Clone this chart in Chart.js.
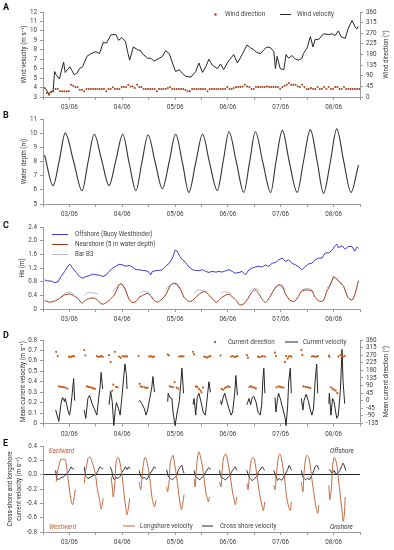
<!DOCTYPE html>
<html><head><meta charset="utf-8">
<script src="https://cdn.jsdelivr.net/npm/chart.js@4.4.0/dist/chart.umd.min.js"></script>
<style>
html,body{margin:0;padding:0;background:#fff;}
#wrap{position:relative;width:394px;height:550px;}
canvas{position:absolute;left:0;top:0;}
</style></head><body>
<div id="wrap">
<canvas id="cA" width="394" height="550"></canvas>
<canvas id="cB" width="394" height="550"></canvas>
<canvas id="cC" width="394" height="550"></canvas>
<canvas id="cD" width="394" height="550"></canvas>
<canvas id="cE" width="394" height="550"></canvas>
</div>
<script>
// ---------- DATA (time in days after 03/06 00:00) ----------
const dayLabels = ['03/06','04/06','05/06','06/06','07/06','08/06'];

// A: wind velocity [t, m/s]
const windVelocity = [[-0.47,4.0],[-0.44,3.8],[-0.39,3.3],[-0.35,3.6],[-0.31,3.6],[-0.28,5.7],[-0.25,5.35],[-0.19,4.9],[-0.11,6.7],[-0.08,5.6],[0.01,6.2],[0.09,5.35],[0.14,5.5],[0.19,6.0],[0.25,6.2],[0.33,7.3],[0.41,7.6],[0.50,7.8],[0.57,7.6],[0.64,8.8],[0.70,8.7],[0.79,9.6],[0.88,9.6],[0.93,9.0],[0.99,9.3],[1.06,8.9],[1.10,7.8],[1.14,6.9],[1.21,8.3],[1.29,8.0],[1.35,7.9],[1.38,7.6],[1.48,7.1],[1.54,7.1],[1.60,6.8],[1.70,7.1],[1.76,7.3],[1.82,7.9],[1.89,7.6],[1.95,6.6],[2.01,5.7],[2.08,5.9],[2.14,5.5],[2.20,5.2],[2.30,5.1],[2.39,5.7],[2.45,6.6],[2.52,5.6],[2.58,6.2],[2.64,7.0],[2.70,6.4],[2.80,6.0],[2.86,6.5],[2.92,5.9],[3.01,6.8],[3.11,7.5],[3.18,6.6],[3.27,7.5],[3.36,8.5],[3.43,8.2],[3.49,8.0],[3.55,7.7],[3.62,7.6],[3.68,8.0],[3.74,8.3],[3.81,8.2],[3.87,7.8],[3.90,6.0],[3.93,7.3],[3.99,6.0],[4.06,5.9],[4.10,7.5],[4.15,7.1],[4.21,7.4],[4.28,7.0],[4.34,6.9],[4.40,7.1],[4.43,7.6],[4.50,8.2],[4.56,9.4],[4.61,8.3],[4.65,9.1],[4.72,9.1],[4.81,9.7],[4.91,9.6],[4.97,9.7],[5.03,9.5],[5.09,10.0],[5.14,9.4],[5.22,9.2],[5.28,10.3],[5.35,11.1],[5.41,10.4],[5.44,10.2],[5.47,10.5]];
// A: wind direction, hourly from t0 (degrees)
const windDirStart = -0.47;
const windDirection = [38,17,10,20,24,34,34,24,24,24,24,24,52,48,42,42,31,31,24,34,34,34,34,34,34,34,34,34,24,34,34,41,34,34,34,42,42,42,52,45,45,38,52,42,42,34,34,34,34,34,34,24,34,34,34,34,38,42,34,34,34,34,34,34,30,24,24,34,34,34,34,34,34,34,24,34,34,34,34,34,34,34,34,42,34,34,38,42,42,42,45,52,45,42,34,34,42,42,42,42,42,45,42,42,42,42,42,34,42,48,52,59,52,52,52,45,42,52,42,34,34,38,34,34,42,34,34,42,34,42,34,34,42,42,34,34,42,34,34,34,34,34,34,34];

// B: water depth [t, m]
const waterDepth = [[-0.47,8.46],[-0.31,6.3],[-0.19,8.1],[-0.08,10.0],[0.08,8.0],[0.24,5.94],[0.35,7.9],[0.47,9.92],[0.61,8.1],[0.75,6.3],[0.88,8.1],[1.01,9.92],[1.13,7.9],[1.26,5.94],[1.37,7.9],[1.49,9.87],[1.62,8.0],[1.76,6.08],[1.89,8.0],[2.01,9.92],[2.14,7.9],[2.26,5.82],[2.39,7.9],[2.52,9.92],[2.65,7.95],[2.80,5.96],[2.91,8.0],[3.02,10.1],[3.16,7.95],[3.30,5.82],[3.41,7.95],[3.52,10.1],[3.66,7.95],[3.81,5.82],[3.91,8.0],[4.03,10.2],[4.16,8.0],[4.31,5.82],[4.43,8.0],[4.56,10.25],[4.69,8.0],[4.81,5.75],[4.94,8.0],[5.06,10.3],[5.19,8.05],[5.33,5.82],[5.47,7.75]];

// C: significant wave height [t, m]
const hsOffshore = [[-0.47,0.85],[-0.41,0.82],[-0.35,0.82],[-0.28,0.77],[-0.22,0.79],[-0.16,0.95],[-0.09,1.10],[-0.03,1.25],[0.01,1.31],[0.06,1.20],[0.13,1.07],[0.19,0.95],[0.25,0.90],[0.31,0.95],[0.38,0.98],[0.44,1.02],[0.50,1.00],[0.57,0.99],[0.63,0.95],[0.69,0.99],[0.75,1.10],[0.82,1.20],[0.88,1.25],[0.94,1.31],[1.01,1.29],[1.07,1.25],[1.13,1.28],[1.19,1.23],[1.26,1.15],[1.32,1.15],[1.38,1.13],[1.45,1.12],[1.51,1.07],[1.54,1.00],[1.57,1.10],[1.64,1.12],[1.70,1.13],[1.76,1.15],[1.82,1.25],[1.89,1.34],[1.95,1.49],[2.00,1.72],[2.04,1.69],[2.09,1.54],[2.14,1.44],[2.20,1.36],[2.26,1.23],[2.33,1.15],[2.39,1.13],[2.45,1.12],[2.52,1.15],[2.58,1.10],[2.64,1.07],[2.70,1.10],[2.77,1.08],[2.83,1.10],[2.89,1.08],[2.96,1.12],[3.02,1.15],[3.08,1.10],[3.14,1.05],[3.21,1.07],[3.27,1.10],[3.33,1.00],[3.40,1.15],[3.46,1.20],[3.52,1.23],[3.58,1.25],[3.65,1.23],[3.71,1.29],[3.77,1.25],[3.84,1.34],[3.90,1.36],[3.96,1.44],[4.03,1.49],[4.09,1.39],[4.15,1.44],[4.21,1.34],[4.28,1.29],[4.34,1.23],[4.40,1.15],[4.47,1.25],[4.53,1.32],[4.59,1.34],[4.65,1.44],[4.72,1.49],[4.78,1.49],[4.84,1.64],[4.91,1.64],[4.97,1.72],[5.03,1.85],[5.06,1.90],[5.09,1.79],[5.16,1.85],[5.22,1.75],[5.28,1.83],[5.35,1.83],[5.40,1.69],[5.44,1.81],[5.47,1.78]];
const hsNearshore = [[-0.47,0.25],[-0.38,0.20],[-0.28,0.23],[-0.19,0.31],[-0.09,0.41],[0.00,0.44],[0.08,0.39],[0.16,0.31],[0.24,0.17],[0.30,0.25],[0.38,0.31],[0.47,0.32],[0.53,0.26],[0.62,0.14],[0.68,0.17],[0.75,0.25],[0.85,0.41],[0.94,0.71],[0.99,0.74],[1.06,0.56],[1.13,0.28],[1.19,0.19],[1.26,0.22],[1.32,0.34],[1.40,0.41],[1.48,0.46],[1.54,0.38],[1.60,0.26],[1.67,0.20],[1.73,0.26],[1.82,0.41],[1.90,0.66],[1.96,0.75],[2.03,0.74],[2.11,0.56],[2.17,0.34],[2.26,0.22],[2.33,0.25],[2.39,0.34],[2.48,0.46],[2.55,0.51],[2.61,0.46],[2.70,0.31],[2.78,0.19],[2.86,0.31],[2.96,0.41],[3.02,0.43],[3.08,0.36],[3.16,0.25],[3.22,0.12],[3.30,0.15],[3.38,0.31],[3.46,0.51],[3.52,0.56],[3.58,0.46],[3.65,0.28],[3.71,0.19],[3.79,0.34],[3.87,0.56],[3.96,0.71],[4.03,0.66],[4.10,0.41],[4.18,0.25],[4.26,0.22],[4.33,0.36],[4.40,0.53],[4.50,0.56],[4.59,0.53],[4.65,0.34],[4.74,0.22],[4.81,0.25],[4.87,0.51],[4.94,0.71],[5.00,0.95],[5.04,0.90],[5.11,0.80],[5.19,0.66],[5.27,0.34],[5.35,0.26],[5.41,0.46],[5.47,0.83]];
const hsBarB3 = [
 [[-0.16,0.35],[-0.09,0.45],[-0.03,0.50],[0.03,0.48],[0.09,0.42]],
 [[0.28,0.40],[0.35,0.48],[0.44,0.47],[0.53,0.45]],
 [[0.82,0.50],[0.89,0.65],[0.96,0.72],[1.02,0.66],[1.07,0.55]],
 [[1.32,0.45],[1.40,0.52],[1.48,0.50],[1.54,0.42]],
 [[1.82,0.55],[1.89,0.68],[1.96,0.74],[2.03,0.70],[2.08,0.60]],
 [[2.36,0.45],[2.42,0.55],[2.52,0.54],[2.61,0.50]],
 [[2.86,0.45],[2.92,0.50],[3.02,0.48],[3.08,0.42]],
 [[3.40,0.50],[3.46,0.58],[3.53,0.60],[3.62,0.52]],
 [[3.87,0.60],[3.95,0.70],[4.03,0.68],[4.09,0.55]],
 [[4.37,0.50],[4.43,0.58],[4.53,0.60],[4.62,0.52]],
 [[4.87,0.60],[4.94,0.75],[5.02,0.92],[5.08,0.85],[5.16,0.70]]
];

// D: mean current velocity [t, m/s] (bursts)
const currentVelocity = [
 [[-0.26,0.13],[-0.20,0.02],[-0.16,0.19],[-0.13,0.25],[-0.09,0.21],[-0.08,0.24],[-0.05,0.18],[-0.03,0.13],[0.00,0.08],[0.02,0.13],[0.05,0.27],[0.08,0.43],[0.10,0.22]],
 [[0.28,0.13],[0.31,0.05],[0.35,0.24],[0.38,0.27],[0.43,0.19],[0.47,0.14],[0.52,0.08],[0.54,0.18],[0.58,0.35],[0.60,0.49],[0.63,0.33]],
 [[0.75,0.18],[0.78,0.31],[0.81,0.21],[0.84,-0.02],[0.87,0.14],[0.89,0.20],[0.93,0.14],[0.96,0.08],[0.98,0.18],[1.02,0.40],[1.05,0.57],[1.08,0.46],[1.09,0.33]],
 [[1.31,0.21],[1.33,0.22],[1.37,0.19],[1.42,0.14],[1.45,0.08],[1.48,0.13],[1.52,0.24],[1.56,0.35],[1.58,0.45],[1.61,0.30]],
 [[1.86,0.21],[1.87,0.29],[1.90,0.25],[1.94,0.24],[1.96,0.11],[2.00,-0.02],[2.04,0.11],[2.08,0.21],[2.11,0.40],[2.13,0.53],[2.16,0.29]],
 [[2.34,0.18],[2.36,0.24],[2.39,0.08],[2.42,0.25],[2.45,0.29],[2.49,0.21],[2.53,0.11],[2.57,0.08],[2.59,0.16],[2.62,0.30],[2.64,0.40],[2.67,0.30]],
 [[2.86,0.22],[2.88,0.18],[2.91,0.25],[2.94,0.29],[2.98,0.21],[3.02,0.14],[3.06,0.08],[3.09,0.11],[3.13,0.30],[3.15,0.46],[3.18,0.27]],
 [[3.36,0.18],[3.40,0.24],[3.43,0.18],[3.46,0.25],[3.49,0.26],[3.53,0.21],[3.57,0.11],[3.61,0.08],[3.64,0.18],[3.66,0.41],[3.68,0.53],[3.70,0.29]],
 [[3.89,0.25],[3.91,0.11],[3.94,0.24],[3.96,0.29],[4.00,0.22],[4.04,0.14],[4.08,0.06],[4.10,-0.02],[4.13,0.16],[4.15,0.40],[4.18,0.53],[4.20,0.29]],
 [[4.39,0.24],[4.42,0.13],[4.44,0.22],[4.48,0.28],[4.52,0.22],[4.56,0.13],[4.59,0.08],[4.62,0.14],[4.65,0.40],[4.68,0.57],[4.70,0.29]],
 [[4.91,0.19],[4.92,0.29],[4.95,0.08],[4.98,0.24],[5.01,0.21],[5.03,0.14],[5.06,0.05],[5.09,0.08],[5.13,0.33],[5.16,0.71],[5.18,0.40],[5.21,0.19]]
];
// D: mean current direction [t, deg]
const currentDirection = [
 [-0.25,290],[-0.22,265],[-0.20,85],[-0.17,83],[-0.14,82],[-0.11,80],[-0.08,78],[-0.04,72],[-0.01,262],[0.01,258],[0.04,262],[0.06,265],[0.09,263],
 [0.28,300],[0.30,268],[0.33,85],[0.36,82],[0.39,80],[0.42,78],[0.45,73],[0.48,70],[0.52,265],[0.55,260],[0.58,262],[0.60,265],[0.63,260],
 [0.75,270],[0.78,230],[0.81,60],[0.83,95],[0.86,290],[0.88,82],[0.91,80],[0.94,262],[0.97,255],[1.01,265],[1.04,262],[1.07,265],[1.09,262],
 [1.31,265],[1.33,100],[1.35,85],[1.38,82],[1.42,80],[1.45,75],[1.48,78],[1.51,262],[1.54,265],[1.57,258],[1.60,262],
 [1.86,275],[1.88,268],[1.90,85],[1.93,82],[1.96,80],[1.99,110],[2.03,78],[2.06,72],[2.08,262],[2.11,265],[2.13,262],[2.16,263],
 [2.34,290],[2.36,275],[2.39,85],[2.42,82],[2.45,70],[2.48,60],[2.50,50],[2.53,78],[2.55,262],[2.58,258],[2.61,255],[2.64,262],[2.67,265],
 [2.86,268],[2.88,70],[2.91,65],[2.94,75],[2.97,80],[3.00,85],[3.03,82],[3.06,262],[3.09,265],[3.13,258],[3.15,262],[3.18,265],
 [3.36,270],[3.38,255],[3.41,82],[3.44,85],[3.47,80],[3.50,78],[3.53,72],[3.57,262],[3.60,258],[3.64,262],[3.66,265],[3.70,262],
 [3.89,285],[3.91,265],[3.92,80],[3.96,85],[3.99,82],[4.02,80],[4.05,78],[4.08,230],[4.10,265],[4.13,250],[4.15,262],[4.18,265],[4.20,262],
 [4.39,300],[4.41,270],[4.43,85],[4.47,82],[4.50,80],[4.53,78],[4.56,75],[4.59,262],[4.62,265],[4.65,260],[4.68,262],[4.70,265],
 [4.91,268],[4.92,260],[4.95,80],[4.98,70],[5.01,65],[5.04,60],[5.07,45],[5.09,262],[5.13,270],[5.16,265],[5.18,262],[5.21,265]
];

// E: longshore and cross-shore velocity [t, m/s] (bursts)
const longshoreVelocity = [
 [[-0.25,-0.10],[-0.22,0.06],[-0.19,0.15],[-0.16,0.22],[-0.13,0.21],[-0.09,0.22],[-0.06,0.15],[-0.03,-0.03],[0.00,-0.21],[0.03,-0.35],[0.06,-0.42],[0.09,-0.31],[0.11,-0.21]],
 [[0.28,-0.12],[0.31,0.06],[0.35,0.22],[0.38,0.25],[0.41,0.22],[0.44,0.15],[0.49,0.02],[0.53,-0.21],[0.57,-0.35],[0.60,-0.48],[0.62,-0.42],[0.64,-0.33]],
 [[0.79,-0.03],[0.81,-0.17],[0.83,-0.31],[0.86,-0.12],[0.88,0.15],[0.91,0.24],[0.94,0.22],[0.97,0.11],[1.01,-0.10],[1.04,-0.31],[1.07,-0.47],[1.09,-0.56],[1.12,-0.45],[1.14,-0.33]],
 [[1.32,-0.10],[1.35,-0.21],[1.37,-0.07],[1.40,0.15],[1.43,0.24],[1.46,0.20],[1.50,0.06],[1.54,-0.17],[1.57,-0.35],[1.61,-0.45],[1.64,-0.35]],
 [[1.84,-0.17],[1.86,-0.24],[1.89,-0.07],[1.91,0.18],[1.94,0.24],[1.96,0.27],[1.99,0.15],[2.03,-0.03],[2.06,-0.21],[2.09,-0.38],[2.12,-0.49],[2.14,-0.42],[2.17,-0.28]],
 [[2.36,-0.06],[2.38,-0.17],[2.40,0.06],[2.43,0.27],[2.45,0.32],[2.48,0.25],[2.52,0.11],[2.55,-0.07],[2.58,-0.24],[2.61,-0.33],[2.63,-0.38],[2.65,-0.31]],
 [[2.84,-0.10],[2.87,-0.17],[2.89,0.06],[2.92,0.24],[2.96,0.29],[2.99,0.22],[3.02,0.09],[3.06,-0.10],[3.09,-0.26],[3.12,-0.35],[3.14,-0.42],[3.17,-0.31]],
 [[3.36,-0.12],[3.38,-0.21],[3.41,0.02],[3.44,0.20],[3.47,0.24],[3.50,0.22],[3.53,0.09],[3.57,-0.12],[3.61,-0.31],[3.65,-0.45],[3.67,-0.50],[3.70,-0.38]],
 [[3.87,-0.15],[3.89,-0.21],[3.92,0.02],[3.95,0.22],[3.98,0.29],[4.01,0.24],[4.04,0.11],[4.08,-0.10],[4.11,-0.31],[4.15,-0.45],[4.18,-0.50],[4.20,-0.38]],
 [[4.39,-0.10],[4.42,-0.24],[4.44,0.02],[4.47,0.22],[4.50,0.27],[4.53,0.24],[4.56,0.11],[4.60,-0.12],[4.64,-0.33],[4.67,-0.47],[4.70,-0.54],[4.72,-0.42]],
 [[4.91,-0.15],[4.93,-0.35],[4.96,-0.17],[4.98,0.11],[5.01,0.24],[5.03,0.22],[5.06,0.15],[5.09,-0.05],[5.13,-0.31],[5.16,-0.51],[5.18,-0.65],[5.20,-0.58],[5.22,-0.31]]
];
const crossShoreVelocity = [
 [[-0.26,0.06],[-0.24,-0.05],[-0.20,-0.07],[-0.16,-0.04],[-0.11,-0.03],[-0.08,-0.01],[-0.03,0.03],[0.00,0.06],[0.03,0.11],[0.06,0.08],[0.09,0.09]],
 [[0.28,0.11],[0.31,-0.02],[0.35,-0.05],[0.39,-0.04],[0.43,-0.02],[0.47,-0.01],[0.52,0.02],[0.55,0.07],[0.58,0.11],[0.62,0.08],[0.64,0.09]],
 [[0.77,0.11],[0.80,0.06],[0.82,-0.02],[0.85,-0.07],[0.88,-0.04],[0.92,-0.05],[0.96,-0.02],[0.99,0.03],[1.03,0.07],[1.06,0.11],[1.09,0.07],[1.12,0.11],[1.14,0.08]],
 [[1.32,0.06],[1.35,-0.02],[1.38,-0.05],[1.42,-0.04],[1.46,-0.07],[1.50,-0.02],[1.53,0.02],[1.57,0.06],[1.60,0.11],[1.64,0.08]],
 [[1.84,0.07],[1.87,-0.02],[1.91,-0.05],[1.95,-0.07],[1.99,-0.04],[2.03,-0.01],[2.06,0.06],[2.10,0.11],[2.13,0.13],[2.15,0.06],[2.17,0.02]],
 [[2.36,0.06],[2.39,-0.03],[2.43,-0.05],[2.47,-0.07],[2.50,-0.04],[2.54,-0.02],[2.58,0.04],[2.62,0.08],[2.64,0.10],[2.67,0.07]],
 [[2.84,0.06],[2.87,-0.03],[2.91,-0.05],[2.96,-0.07],[2.99,-0.04],[3.03,-0.02],[3.07,0.04],[3.11,0.08],[3.14,0.11],[3.17,0.06]],
 [[3.36,0.06],[3.40,-0.03],[3.44,-0.07],[3.47,-0.08],[3.51,-0.05],[3.55,-0.02],[3.58,0.04],[3.62,0.08],[3.65,0.11],[3.69,0.06]],
 [[3.87,0.06],[3.90,-0.01],[3.94,-0.08],[3.97,-0.05],[4.01,-0.08],[4.05,-0.04],[4.09,0.01],[4.13,0.07],[4.16,0.13],[4.19,0.08],[4.21,0.06]],
 [[4.39,0.06],[4.42,-0.03],[4.47,-0.07],[4.50,-0.05],[4.54,-0.07],[4.58,-0.02],[4.62,0.04],[4.65,0.11],[4.69,0.13],[4.72,0.07]],
 [[4.91,0.07],[4.94,0.06],[4.97,0.02],[5.01,0.06],[5.04,0.01],[5.08,0.02],[5.12,0.06],[5.16,0.13],[5.18,0.16],[5.21,0.11],[5.23,0.06]]
];

// ---------- HELPERS ----------
const FONT = 'Roboto, "Liberation Sans", Arial, sans-serif';
const TICK_COL = '#404040', AXIS_COL = '#9a9a9a', TXT = '#2b2b2b';
const toPts = arr => arr.map(p => ({x:p[0], y:p[1]}));
const segPts = segs => segs.flatMap((s,i) => (i ? [{x:s[0][0], y:null}] : []).concat(toPts(s)));

function xScale(){
  return {type:'linear', min:-0.5, max:5.5, position:'bottom',
    border:{color:AXIS_COL, width:1},
    grid:{drawOnChartArea:false, drawTicks:true, tickLength:3, color:AXIS_COL},
    ticks:{stepSize:0.5, autoSkip:false, maxRotation:0, minRotation:0, padding:4, color:TICK_COL,
      font:{family:FONT, size:6.3},
      callback:v => (Math.abs(v-Math.round(v))<1e-6 && v>=0 && v<=5) ? dayLabels[Math.round(v)] : ''},
    afterFit:s => { s.height = 14; }};
}
function yScale(pos, min, max, step, gridColor){
  const g = {drawOnChartArea:!!gridColor, drawTicks:true, tickLength:3, tickColor:AXIS_COL, color:gridColor || AXIS_COL};
  return {type:'linear', position:pos, min, max,
    border:{color:AXIS_COL, width:1}, grid:g,
    ticks:{stepSize:step, autoSkip:false, padding:3, color:TICK_COL, font:{family:FONT, size:6.3}},
    afterFit:s => { s.width = pos==='left' ? 43 : 34; }};
}
function text(c, s, x, y, o){
  o = o || {};
  c.save();
  c.font = [o.style||'', o.weight||'', (o.size||6.3)+'px', FONT].filter(Boolean).join(' ');
  c.fillStyle = o.color || TXT;
  c.textAlign = o.align || 'left';
  c.textBaseline = 'middle';
  if (o.rot){ c.translate(x,y); c.rotate(-Math.PI/2); c.fillText(s,0,0); }
  else c.fillText(s,x,y);
  c.restore();
}
function hline(c,x1,x2,y,col,w){ c.save(); c.strokeStyle=col; c.lineWidth=w||1; c.beginPath(); c.moveTo(x1,y); c.lineTo(x2,y); c.stroke(); c.restore(); }
function dot(c,x,y,col){ c.save(); c.fillStyle=col; c.beginPath(); c.arc(x,y,1.2,0,Math.PI*2); c.fill(); c.restore(); }
function letter(c,s,y){ text(c,s,3,y,{weight:'bold', size:9, color:'#111'}); }

function makeChart(id, plotTop, plotBottom, hasRight, datasets, yScales, draw){
  return new Chart(document.getElementById(id), {
    type:'line',
    data:{datasets},
    options:{
      responsive:false, animation:false, events:[],
      layout:{padding:{top:plotTop, bottom:550-plotBottom-14, left:0, right:hasRight?0:34}},
      plugins:{legend:{display:false}, tooltip:{enabled:false}},
      scales:Object.assign({x:xScale()}, yScales),
      elements:{point:{radius:0}, line:{borderWidth:1}}
    },
    plugins:[{id:'overlay', afterDraw(ch){ draw(ch.ctx, ch); }}]
  });
}

// ---------- COLOURS ----------
const C_WINDDIR = '#a8431c', C_BLACK = '#262626', C_OFF = '#3b3bd1', C_NEAR = '#9c3412',
      C_B3 = '#b8b8cc', C_CURDIR = '#c0601c', C_LONG = '#c26a40';

// ---------- A ----------
makeChart('cA', 12, 97, true, [
  {label:'Wind direction', data:windDirection.map((v,i)=>({x:windDirStart+i/24, y:v})), yAxisID:'y2',
   showLine:false, pointRadius:1, pointBackgroundColor:C_WINDDIR, pointBorderWidth:0},
  {label:'Wind velocity', data:toPts(windVelocity), yAxisID:'y', borderColor:C_BLACK, borderWidth:1, tension:0}
], {y:yScale('left',3,12,1), y2:yScale('right',0,360,45)}, c => {
  letter(c,'A',8);
  text(c,'Wind velocity (m s\u207B\u00B9)',24,54.5,{rot:true, align:'center'});
  text(c,'Wind direction (\u00B0)',386,54.5,{rot:true, align:'center'});
  dot(c,215.5,14.5,C_WINDDIR);
  text(c,'Wind direction',225,14.5,{color:'#444'});
  hline(c,280,291,14.5,C_BLACK,1);
  text(c,'Wind velocity',297,14.5,{color:'#444'});
});

// ---------- B ----------
makeChart('cB', 119, 204, false, [
  {label:'Water depth', data:toPts(waterDepth), yAxisID:'y', borderColor:'#333', borderWidth:1.1, cubicInterpolationMode:'monotone'}
], {y:yScale('left',5,11,1)}, c => {
  letter(c,'B',116);
  text(c,'Water depth (m)',24,161.5,{rot:true, align:'center'});
});

// ---------- C ----------
makeChart('cC', 227, 309, false, [
  {label:'Offshore (Buoy Westhinder)', data:toPts(hsOffshore), yAxisID:'y', borderColor:C_OFF, borderWidth:1, tension:0},
  {label:'Nearshore (5 m water depth)', data:toPts(hsNearshore), yAxisID:'y', borderColor:C_NEAR, borderWidth:1, tension:0.2},
  {label:'Bar B3', data:segPts(hsBarB3), yAxisID:'y', borderColor:C_B3, borderWidth:1, tension:0.3, spanGaps:false}
], {y:yScale('left',0,2.4,0.4)}, c => {
  letter(c,'C',225.5);
  text(c,'Hs (m)',22,268,{rot:true, align:'center'});
  hline(c,52,68,234.5,C_OFF,1);  text(c,'Offshore (Buoy Westhinder)',75,234.5,{color:'#444'});
  hline(c,52,68,244.5,C_NEAR,1); text(c,'Nearshore (5 m water depth)',75,244.5,{color:'#444'});
  hline(c,52,68,254.5,C_B3,1);   text(c,'Bar B3',75,254.5,{color:'#444'});
});

// ---------- D ----------
makeChart('cD', 340, 423.5, true, [
  {label:'Current direction', data:toPts(currentDirection), yAxisID:'y2', showLine:false,
   pointRadius:1.1, pointBackgroundColor:C_CURDIR, pointBorderWidth:0},
  {label:'Current velocity', data:segPts(currentVelocity), yAxisID:'y', borderColor:C_BLACK, borderWidth:1, tension:0, spanGaps:false, clip:4}
], {y:yScale('left',0,0.8,0.1), y2:yScale('right',-135,360,45)}, c => {
  letter(c,'D',335.5);
  text(c,'Mean current velocity (m s\u207B\u00B9)',23,381.5,{rot:true, align:'center'});
  text(c,'Mean current direction (\u00B0)',386,381.5,{rot:true, align:'center'});
  dot(c,215,342,C_CURDIR);
  text(c,'Current direction',228,342,{color:'#444'});
  hline(c,285,298,342,C_BLACK,1);
  text(c,'Current velocity',303,342,{color:'#444'});
});

// ---------- E ----------
makeChart('cE', 446, 532, false, [
  {label:'Longshore velocity', data:segPts(longshoreVelocity), yAxisID:'y', borderColor:C_LONG, borderWidth:1, tension:0.3, spanGaps:false},
  {label:'Cross shore velocity', data:segPts(crossShoreVelocity), yAxisID:'y', borderColor:C_BLACK, borderWidth:1, tension:0.2, spanGaps:false}
], {y:yScale('left',-0.8,0.4,0.2, ctx => (ctx.tick && Math.abs(ctx.tick.value)<1e-9) ? '#222' : 'rgba(0,0,0,0)')}, c => {
  letter(c,'E',444);
  text(c,'Cross-shore and longshore',10,489,{rot:true, align:'center'});
  text(c,'current velocity (m s\u207B\u00B9)',19,489,{rot:true, align:'center'});
  text(c,'Eastward',49,451,{style:'italic', color:'#c0583a'});
  text(c,'Westward',49,527,{style:'italic', color:'#b8683a'});
  text(c,'Offshore',330,451,{style:'italic', color:'#333'});
  text(c,'Onshore',330,527,{style:'italic', color:'#333'});
  hline(c,123,135,526,C_LONG,1);  text(c,'Longshore velocity',140,526,{color:'#444'});
  hline(c,202,213,526,C_BLACK,1); text(c,'Cross shore velocity',220,526,{color:'#444'});
});
</script>
</body></html>
